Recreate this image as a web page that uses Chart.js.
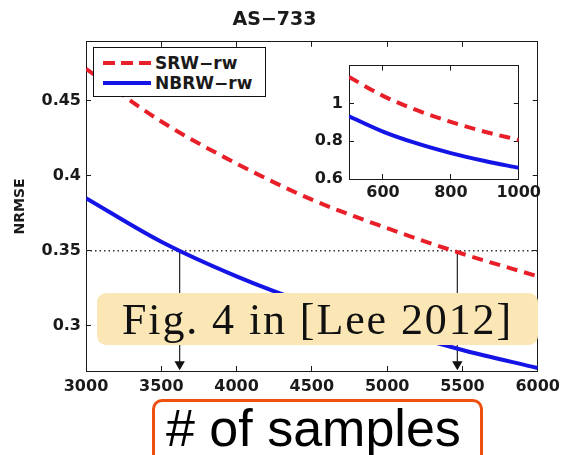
<!DOCTYPE html>
<html>
<head>
<meta charset="utf-8">
<script src="https://cdn.jsdelivr.net/npm/chart.js@4.4.1/dist/chart.umd.min.js"></script>
<style>
  html, body { margin: 0; padding: 0; background: #fff; }
  #stage { position: relative; width: 571px; height: 455px; overflow: hidden; }
  #mainChart { position: absolute; left: 0; top: 0; }
  #insetChart { position: absolute; left: 290px; top: 45px; }
  .legend {
    position: absolute; left: 93px; top: 47px; width: 171px; height: 48px;
    border: 1px solid #111; background: #fff;
    font: bold 17px "DejaVu Sans", sans-serif; color: #1a1a1a;
  }
  .legend .row { position: absolute; left: 0; height: 20px; line-height: 20px; }
  .legend .swatch { position: absolute; left: 9px; top: 8px; width: 48px; height: 4px; }
  .legend .label { position: absolute; left: 61px; top: 0; white-space: nowrap; }
  .sw-srw { background: repeating-linear-gradient(to right, #e81e28 0 12px, transparent 12px 18px); }
  .sw-nbrw { background: #1414e6; }
  .note {
    position: absolute; left: 97px; top: 293px; width: 441px; height: 52px;
    background: #fbe7b6; border-radius: 9px;
    font: 44px "Liberation Serif", serif; letter-spacing: 1.9px; color: #111;
    text-align: center; line-height: 54px; white-space: nowrap;
  }
  .xlabel {
    position: absolute; left: 152px; top: 399px; width: 325px; height: 70px;
    border: 3px solid #f0500f; border-radius: 10px; background: #fff;
    font: 52px "Liberation Sans", sans-serif; color: #000;
    line-height: 52px; text-indent: 11px; white-space: nowrap;
  }
</style>
</head>
<body>
<div id="stage">
  <canvas id="mainChart" width="571" height="455"></canvas>
  <canvas id="insetChart" width="260" height="170"></canvas>
  <div class="legend">
    <div class="row" style="top:5px"><div class="swatch sw-srw"></div><div class="label">SRW−rw</div></div>
    <div class="row" style="top:25px"><div class="swatch sw-nbrw"></div><div class="label">NBRW−rw</div></div>
  </div>
  <div class="note">Fig. 4 in [Lee 2012]</div>
  <div class="xlabel"># of samples</div>
</div>
<script>
// ── Data ─────────────────────────────────────────────────────
const sampleSizes = [3000, 3500, 4000, 4500, 5000, 5500, 6000];
const srwMain = [0.471, 0.436, 0.408, 0.384, 0.365, 0.348, 0.333];
const nbrwMain = [0.385, 0.356, 0.333, 0.314, 0.298, 0.284, 0.272];

const insetSizes = [500, 600, 700, 800, 900, 1000];
const srwInset = [1.14, 1.04, 0.964, 0.902, 0.85, 0.807];
const nbrwInset = [0.932, 0.851, 0.788, 0.737, 0.695, 0.659];

const mainXTicks = [3000, 3500, 4000, 4500, 5000, 5500, 6000];
const mainYTicks = [0.3, 0.35, 0.4, 0.45];
const insetXTicks = [600, 800, 1000];
const insetYTicks = [0.6, 0.8, 1];

const targetNrmse = 0.35;
const crossingSizes = [3622, 5466];
const arrowEnd = 0.2745;

const RED = '#e81e28';
const BLUE = '#1414e6';
const INK = '#1a1a1a';
const TICK_FONT = { family: 'DejaVu Sans', weight: 'bold', size: 16 };

const pts = (xs, ys) => xs.map((x, i) => ({ x, y: ys[i] }));
const fixTicks = list => scale => { scale.ticks = list.map(v => ({ value: v })); };

// matlab-style box: inward ticks on all four sides
function boxAxes(xr, yr, xt, yt, pad, fit) {
  const grid = { drawOnChartArea: false, drawTicks: true, tickLength: -5, color: INK, lineWidth: 1 };
  const border = { display: true, color: INK, width: 1 };
  return {
    x: {
      type: 'linear', position: 'bottom', min: xr[0], max: xr[1], grid, border,
      afterBuildTicks: fixTicks(xt), afterFit: s => { s.height = fit.x; },
      ticks: { color: INK, font: TICK_FONT, padding: pad.x, autoSkip: false, maxRotation: 0, callback: v => String(v) },
    },
    y: {
      type: 'linear', position: 'left', min: yr[0], max: yr[1], grid, border,
      afterBuildTicks: fixTicks(yt), afterFit: s => { s.width = fit.y; },
      ticks: { color: INK, font: TICK_FONT, padding: pad.y, callback: v => String(v) },
      title: fit.title || { display: false },
    },
    x2: {
      type: 'linear', position: 'top', min: xr[0], max: xr[1], grid, border,
      afterBuildTicks: fixTicks(xt), afterFit: s => { s.height = 0; },
      ticks: { display: false },
    },
    y2: {
      type: 'linear', position: 'right', min: yr[0], max: yr[1], grid, border,
      afterBuildTicks: fixTicks(yt), afterFit: s => { s.width = 0; },
      ticks: { display: false },
    },
  };
}

// ── Arrow helper datasets ────────────────────────────────────
const guideSets = [{
  data: [{ x: sampleSizes[0], y: targetNrmse }, { x: sampleSizes[sampleSizes.length - 1], y: targetNrmse }],
  borderColor: '#333', borderWidth: 1.3, borderDash: [1.5, 3], pointRadius: 0,
}].concat(crossingSizes.map(x => ({
  data: [{ x, y: targetNrmse }, { x, y: arrowEnd }],
  borderColor: '#222', borderWidth: 1.2, pointStyle: 'triangle', rotation: 180,
  pointRadius: [0, 6], pointBackgroundColor: '#111', pointBorderWidth: 0,
})));

// ── Main chart ───────────────────────────────────────────────
new Chart(document.getElementById('mainChart'), {
  type: 'line',
  data: {
    datasets: [
      { label: 'SRW−rw', data: pts(sampleSizes, srwMain), borderColor: RED, borderWidth: 4, borderDash: [11, 7], pointRadius: 0, cubicInterpolationMode: 'monotone' },
      { label: 'NBRW−rw', data: pts(sampleSizes, nbrwMain), borderColor: BLUE, borderWidth: 4, pointRadius: 0, cubicInterpolationMode: 'monotone' },
      ...guideSets,
    ],
  },
  options: {
    responsive: false,
    animation: false,
    layout: { padding: { left: 0, right: 22, top: 0, bottom: 54 } },
    plugins: {
      legend: { display: false },
      tooltip: { enabled: false },
      title: {
        display: true, text: 'AS−733', color: INK,
        font: { family: 'DejaVu Sans', weight: 'bold', size: 19 },
        padding: { top: 9, bottom: 10 },
      },
    },
    scales: boxAxes([3000, 6000], [0.27, 0.489], mainXTicks, mainYTicks, { x: 11, y: 10 }, {
      x: 30, y: 86,
      title: { display: true, text: 'NRMSE', color: INK, font: { family: 'DejaVu Sans', weight: 'bold', size: 14 }, padding: { top: 12, bottom: 0 } },
    }),
  },
});

// ── Inset chart ──────────────────────────────────────────────
new Chart(document.getElementById('insetChart'), {
  type: 'line',
  data: {
    datasets: [
      { data: pts(insetSizes, srwInset), borderColor: RED, borderWidth: 4, borderDash: [11, 7], pointRadius: 0, cubicInterpolationMode: 'monotone' },
      { data: pts(insetSizes, nbrwInset), borderColor: BLUE, borderWidth: 4, pointRadius: 0, cubicInterpolationMode: 'monotone' },
    ],
  },
  options: {
    responsive: false,
    animation: false,
    layout: { padding: { left: 0, right: 22, top: 11, bottom: 0 } },
    plugins: { legend: { display: false }, tooltip: { enabled: false } },
    scales: boxAxes([500, 1000], [0.6, 1.2], insetXTicks, insetYTicks, { x: 9, y: 11 }, { x: 36, y: 59 }),
  },
  plugins: [{
    id: 'whiteArea',
    beforeDraw(chart) {
      const a = chart.chartArea;
      chart.ctx.save();
      chart.ctx.fillStyle = '#fff';
      chart.ctx.fillRect(a.left, a.top, a.right - a.left, a.bottom - a.top);
      chart.ctx.restore();
    },
  }],
});
</script>
</body>
</html>
